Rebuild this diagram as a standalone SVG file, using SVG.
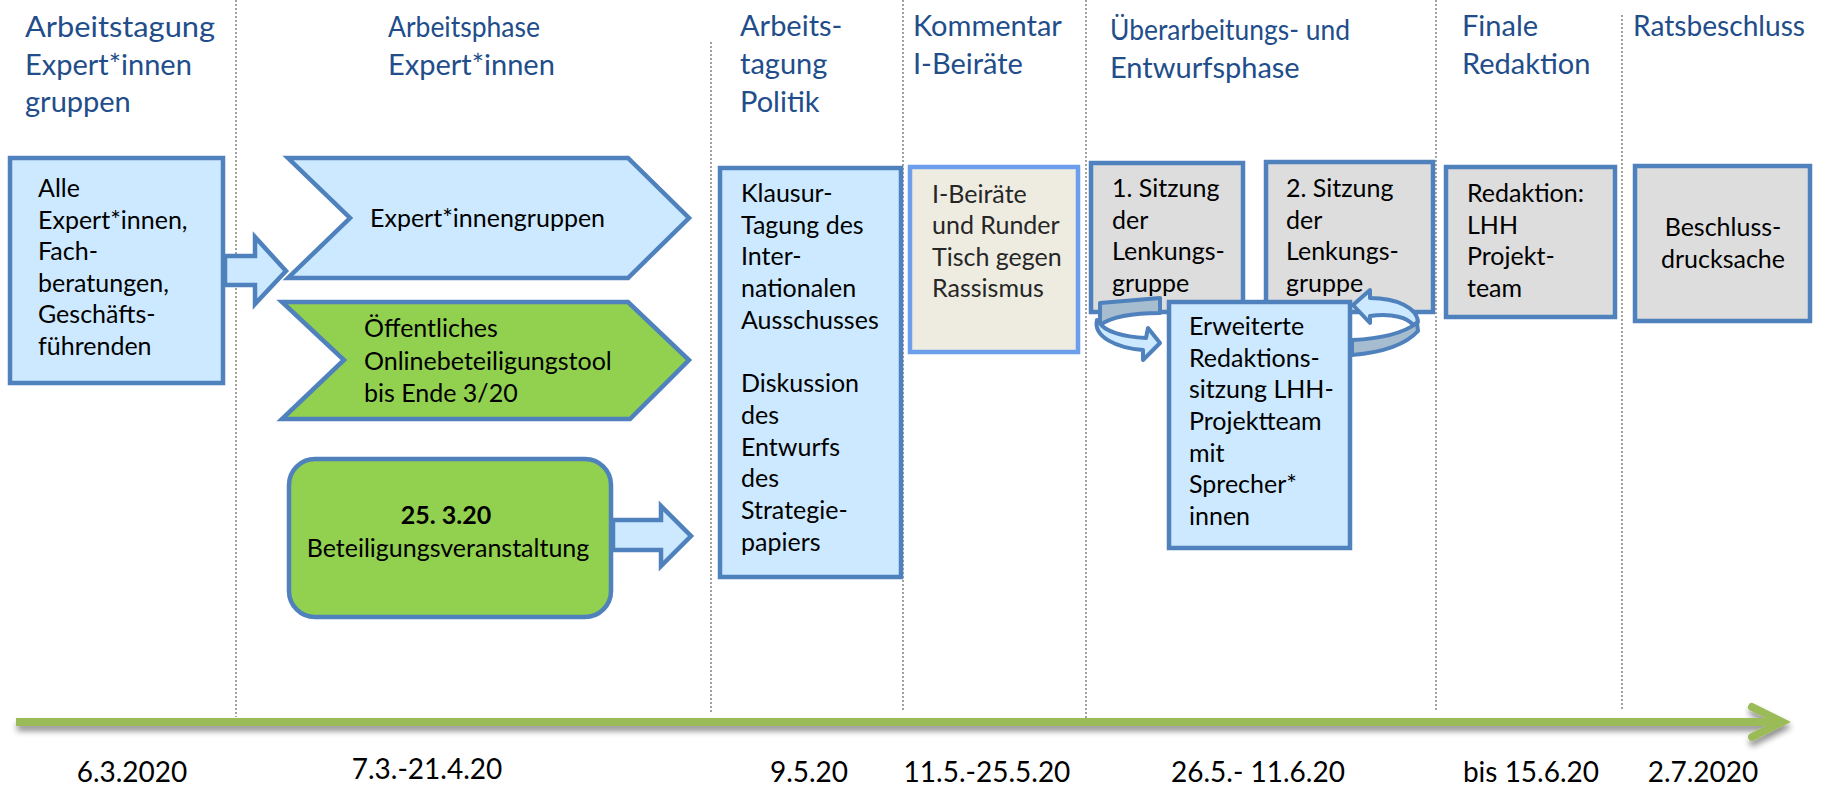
<svg xmlns="http://www.w3.org/2000/svg" width="1826" height="789" viewBox="0 0 1826 789">
<defs>
<style>
.hdr{font-family:Lato,"Liberation Sans",sans-serif;font-size:29px;fill:#214D8A}
.txt{font-family:Lato,"Liberation Sans",sans-serif;font-size:25px;fill:#000}
.date{font-family:Lato,"Liberation Sans",sans-serif;font-size:28px;fill:#000}
.sep{stroke:#8a8a8a;stroke-width:1.6;stroke-dasharray:2 2;fill:none}
.blue{fill:#CCE9FF;stroke:#4F81BD;stroke-width:4.5;stroke-linejoin:miter}
.gray{fill:#DDDDDD;stroke:#4F81BD;stroke-width:4.5}
.green{fill:#92D050;stroke:#4F81BD;stroke-width:4.5}
.band{fill:#A6BDD0;stroke:#4F81BD;stroke-width:4;stroke-linejoin:round}
.bandf{fill:#CCE9FF;stroke:#4F81BD;stroke-width:4;stroke-linejoin:round}
.tl{stroke:#9BBB59;stroke-width:8;fill:none}
</style>
<filter id="sh" x="-5%" y="-100%" width="110%" height="300%">
<feGaussianBlur in="SourceAlpha" stdDeviation="3"/>
<feOffset dx="1" dy="5" result="b"/>
<feComponentTransfer><feFuncA type="linear" slope="0.45"/></feComponentTransfer>
<feMerge><feMergeNode/><feMergeNode in="SourceGraphic"/></feMerge>
</filter>
</defs>
<rect width="1826" height="789" fill="#fff"/>

<g id="separators">
<line class="sep" x1="236" y1="0" x2="236" y2="717"/>
<line class="sep" x1="711" y1="42" x2="711" y2="713"/>
<line class="sep" x1="903" y1="0" x2="903" y2="710"/>
<line class="sep" x1="1086" y1="0" x2="1086" y2="718"/>
<line class="sep" x1="1436" y1="0" x2="1436" y2="712"/>
<line class="sep" x1="1622" y1="15" x2="1622" y2="710"/>
</g>

<g id="headers">
<text class="hdr" x="25" y="37" textLength="190" lengthAdjust="spacingAndGlyphs">Arbeitstagung</text>
<text class="hdr" x="25" y="75">Expert*innen</text>
<text class="hdr" x="25" y="112">gruppen</text>
<text class="hdr" x="388" y="37" textLength="152" lengthAdjust="spacingAndGlyphs">Arbeitsphase</text>
<text class="hdr" x="388" y="75">Expert*innen</text>
<text class="hdr" x="740" y="36">Arbeits-</text>
<text class="hdr" x="740" y="74">tagung</text>
<text class="hdr" x="740" y="112">Politik</text>
<text class="hdr" x="913" y="36">Kommentar</text>
<text class="hdr" x="913" y="74">I-Beiräte</text>
<text class="hdr" x="1110" y="40" textLength="240" lengthAdjust="spacingAndGlyphs">Überarbeitungs- und</text>
<text class="hdr" x="1110" y="78">Entwurfsphase</text>
<text class="hdr" x="1462" y="36">Finale</text>
<text class="hdr" x="1462" y="74">Redaktion</text>
<text class="hdr" x="1633" y="36" textLength="172" lengthAdjust="spacingAndGlyphs">Ratsbeschluss</text>
</g>

<g id="timeline" filter="url(#sh)">
<line class="tl" x1="16" y1="722" x2="1780" y2="722"/>
<polyline class="tl" points="1752,707 1782,722 1752,737" stroke-linecap="round" stroke-linejoin="miter"/>
</g>

<g id="dates">
<text class="date" x="132" y="782" text-anchor="middle">6.3.2020</text>
<text class="date" x="427" y="779" text-anchor="middle">7.3.-21.4.20</text>
<text class="date" x="809" y="782" text-anchor="middle">9.5.20</text>
<text class="date" x="987" y="782" text-anchor="middle">11.5.-25.5.20</text>
<text class="date" x="1258" y="782" text-anchor="middle">26.5.- 11.6.20</text>
<text class="date" x="1531" y="782" text-anchor="middle">bis 15.6.20</text>
<text class="date" x="1703" y="782" text-anchor="middle">2.7.2020</text>
</g>

<g id="connectors">
<polygon class="blue" points="225,256 255,256 255,237 286,271 255,304 255,285 225,285" stroke-width="4"/>
<polygon class="blue" points="613,520 661,520 661,506 691,536 661,566 661,550 613,550" stroke-width="4"/>
</g>

<g id="node-alle">
<rect class="blue" x="10" y="158" width="213" height="225"/>
<text class="txt" x="38" y="197">Alle</text>
<text class="txt" x="38" y="229">Expert*innen,</text>
<text class="txt" x="38" y="260">Fach-</text>
<text class="txt" x="38" y="292">beratungen,</text>
<text class="txt" x="38" y="323">Geschäfts-</text>
<text class="txt" x="38" y="355">führenden</text>
</g>

<g id="node-expertinnengruppen">
<polygon class="blue" points="288,158 628,158 689,218 628,278 288,278 350,218"/>
<text class="txt" x="370" y="227">Expert*innengruppen</text>
</g>

<g id="node-online">
<polygon class="green" points="282,302 628,302 689,360 630,419 282,419 344,360"/>
<text class="txt" x="364" y="337">Öffentliches</text>
<text class="txt" x="364" y="370">Onlinebeteiligungstool</text>
<text class="txt" x="364" y="402">bis Ende 3/20</text>
</g>

<g id="node-beteiligung">
<rect class="green" x="289" y="459" width="322" height="158" rx="26"/>
<text class="txt" x="446" y="524" text-anchor="middle" font-weight="bold">25. 3.20</text>
<text class="txt" x="448" y="557" text-anchor="middle">Beteiligungsveranstaltung</text>
</g>

<g id="node-klausur">
<rect class="blue" x="720" y="168" width="181" height="409"/>
<text class="txt" x="741" y="202">Klausur-</text>
<text class="txt" x="741" y="234">Tagung des</text>
<text class="txt" x="741" y="265">Inter-</text>
<text class="txt" x="741" y="297">nationalen</text>
<text class="txt" x="741" y="329">Ausschusses</text>
<text class="txt" x="741" y="392">Diskussion</text>
<text class="txt" x="741" y="424">des</text>
<text class="txt" x="741" y="456">Entwurfs</text>
<text class="txt" x="741" y="487">des</text>
<text class="txt" x="741" y="519">Strategie-</text>
<text class="txt" x="741" y="551">papiers</text>
</g>

<g id="node-beiraete">
<rect x="910" y="167" width="168" height="185" fill="#EEECE1" stroke="#6D9EEB" stroke-width="4.5"/>
<text class="txt" x="932" y="203" style="fill:#262626">I-Beiräte</text>
<text class="txt" x="932" y="234" style="fill:#262626">und Runder</text>
<text class="txt" x="932" y="266" style="fill:#262626">Tisch gegen</text>
<text class="txt" x="932" y="297" style="fill:#262626">Rassismus</text>
</g>

<g id="node-sitzung1">
<rect class="gray" x="1091" y="163" width="152" height="149"/>
<text class="txt" x="1112" y="197">1. Sitzung</text>
<text class="txt" x="1112" y="229">der</text>
<text class="txt" x="1112" y="260">Lenkungs-</text>
<text class="txt" x="1112" y="292">gruppe</text>
</g>

<g id="node-sitzung2">
<rect class="gray" x="1266" y="162" width="167" height="150"/>
<text class="txt" x="1286" y="197">2. Sitzung</text>
<text class="txt" x="1286" y="229">der</text>
<text class="txt" x="1286" y="260">Lenkungs-</text>
<text class="txt" x="1286" y="292">gruppe</text>
</g>

<g id="node-redaktionssitzung">
<rect class="blue" x="1169" y="302" width="181" height="246"/>
<text class="txt" x="1189" y="335">Erweiterte</text>
<text class="txt" x="1189" y="367">Redaktions-</text>
<text class="txt" x="1189" y="398">sitzung LHH-</text>
<text class="txt" x="1189" y="430">Projektteam</text>
<text class="txt" x="1189" y="462">mit</text>
<text class="txt" x="1189" y="493">Sprecher*</text>
<text class="txt" x="1189" y="525">innen</text>
</g>

<g id="node-redaktion">
<rect class="gray" x="1446" y="167" width="169" height="150"/>
<text class="txt" x="1467" y="202">Redaktion:</text>
<text class="txt" x="1467" y="234">LHH</text>
<text class="txt" x="1467" y="265">Projekt-</text>
<text class="txt" x="1467" y="297">team</text>
</g>

<g id="node-beschluss">
<rect class="gray" x="1635" y="166" width="175" height="155"/>
<text class="txt" x="1723" y="236" text-anchor="middle">Beschluss-</text>
<text class="txt" x="1723" y="268" text-anchor="middle">drucksache</text>
</g>

<g id="cycle-arrows">
<path class="band" d="M1100,303 L1160,298 L1160,313 Q1117,313 1100,325 Z"/>
<path class="bandf" d="M1097,320 C1093,337 1117,348 1143,350 L1143,360 L1160,343 L1148,328 L1146,338 C1123,337 1104,331 1100,323 Z"/>
<path class="band" d="M1352,340 Q1397,338 1417,323 L1418,331 Q1400,351 1352,355 Z"/>
<path class="bandf" d="M1370,298 C1397,298 1417,308 1418,322 L1413,325 C1408,318 1393,313 1370,316 L1370,323 L1353,305 L1370,290 Z"/>
</g>
</svg>
